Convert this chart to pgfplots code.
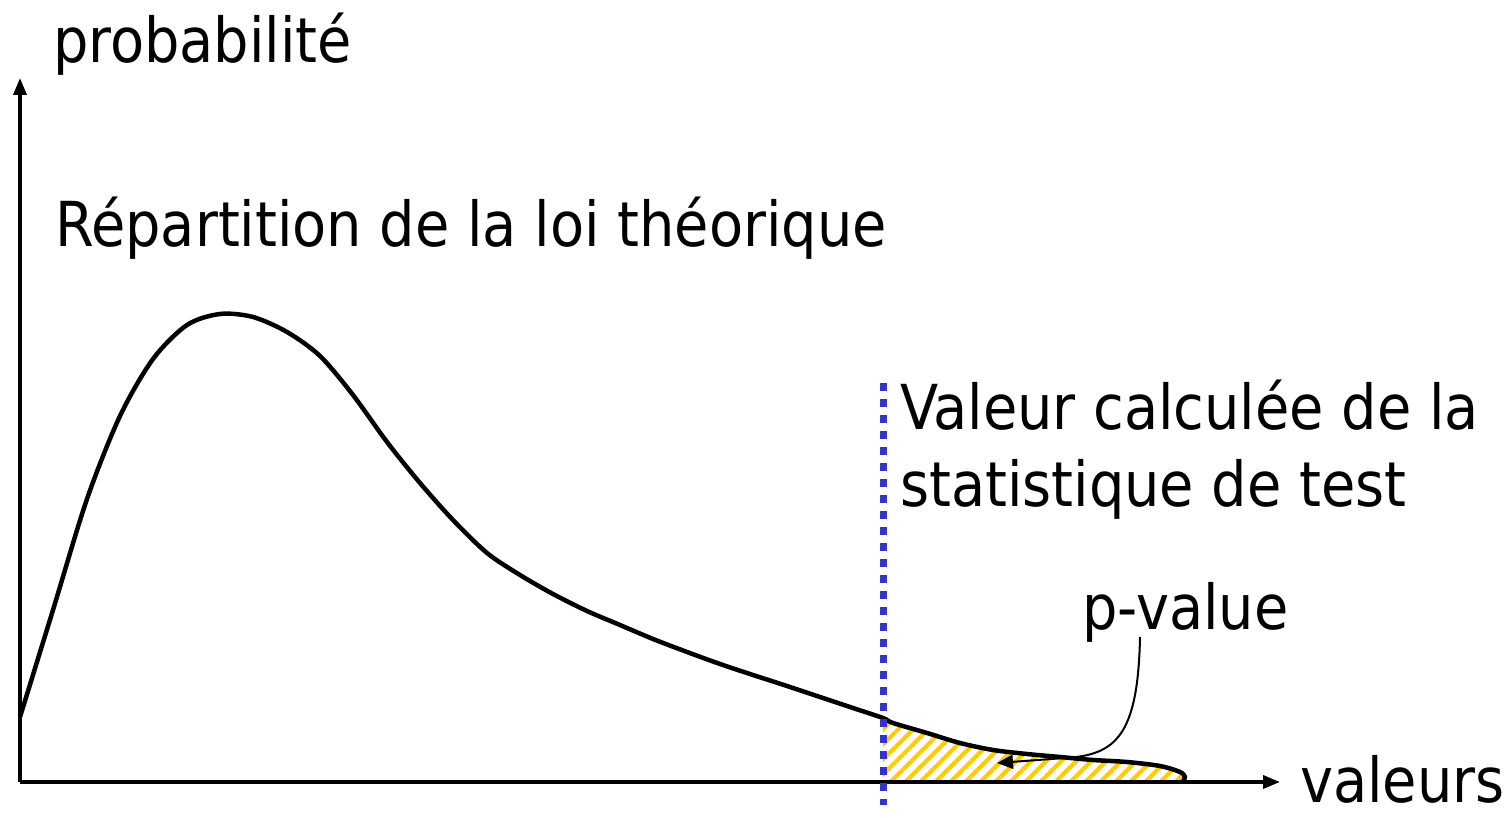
\documentclass[border=0pt]{standalone}
\usepackage{fontspec}
\setmainfont{DejaVu Sans Condensed}
\usepackage{pgfplots}
\pgfplotsset{compat=1.18}
\usetikzlibrary{arrows.meta,patterns.meta}
\definecolor{hatch}{HTML}{FFCC00}
\definecolor{dotblue}{HTML}{3333CC}
\begin{document}
\begin{tikzpicture}
\begin{axis}[
  width=1511pt, height=818pt, scale only axis,
  xmin=-20, xmax=1491, ymin=-36, ymax=782,
  hide axis, clip=false,
]
\path (axis cs:-20,-36) rectangle (axis cs:1491,782);
% hatched p-value area
\addplot[draw=none, smooth, pattern={Lines[angle=45,distance=10.6pt,line width=4.2pt]}, pattern color=hatch]
  coordinates {(863,64) (873,59) (907,49) (940,39) (973,32) (1007,28) (1040,25) (1073,22) (1107,20) (1140,16) (1160,10) (1165,5) (1165,0)} \closedcycle;
% axes
\draw[line width=3.5pt, -{Triangle[length=17pt,width=13pt]}] (axis cs:0,0) -- (axis cs:0,704);
\draw[line width=3.5pt, -{Triangle[length=17pt,width=13pt]}] (axis cs:0,0) -- (axis cs:1260,0);
% density curve
\addplot[black, line width=4.5pt, smooth, line join=round] coordinates {
(0,65) (33,172) (67,283) (100,366) (133,423) (167,457) (200,468) (233,465)
(267,450) (300,426) (333,387) (367,340) (400,299) (433,262) (467,229)
(500,207) (533,188) (567,171) (600,157) (633,143) (667,130) (700,118)
(733,107) (767,96) (800,85) (833,74) (863,64) (873,59) (907,49) (940,39)
(973,32) (1007,28) (1040,25) (1073,22) (1107,20) (1140,16) (1160,10)
(1165,5) (1163,1)};
% observed statistic
\addplot[dotblue, line width=7pt, dash pattern=on 8pt off 8pt] coordinates {(863,399) (863,-23)};
% p-value arrow
\draw[line width=2pt, -{Triangle[length=16pt,width=14pt]}] (axis cs:1120,145) .. controls (axis cs:1118,45) and (axis cs:1095,27) .. (axis cs:1045,24) -- (axis cs:977,19);
% labels
\node[anchor=base west, inner sep=0pt, font=\fontsize{62}{74}\selectfont] at (axis cs:33,719) {probabilité};
\node[anchor=base west, inner sep=0pt, font=\fontsize{62}{74}\selectfont] at (axis cs:35,535) {Répartition de la loi théorique};
\node[anchor=base west, inner sep=0pt, font=\fontsize{62}{74}\selectfont] at (axis cs:880,352) {Valeur calculée de la};
\node[anchor=base west, inner sep=0pt, font=\fontsize{62}{74}\selectfont] at (axis cs:880,275) {statistique de test};
\node[anchor=base west, inner sep=0pt, font=\fontsize{62}{74}\selectfont] at (axis cs:1062,152) {p-value};
\node[anchor=base west, inner sep=0pt, font=\fontsize{62}{74}\selectfont] at (axis cs:1280,-21) {valeurs};
\end{axis}
\end{tikzpicture}
\end{document}
